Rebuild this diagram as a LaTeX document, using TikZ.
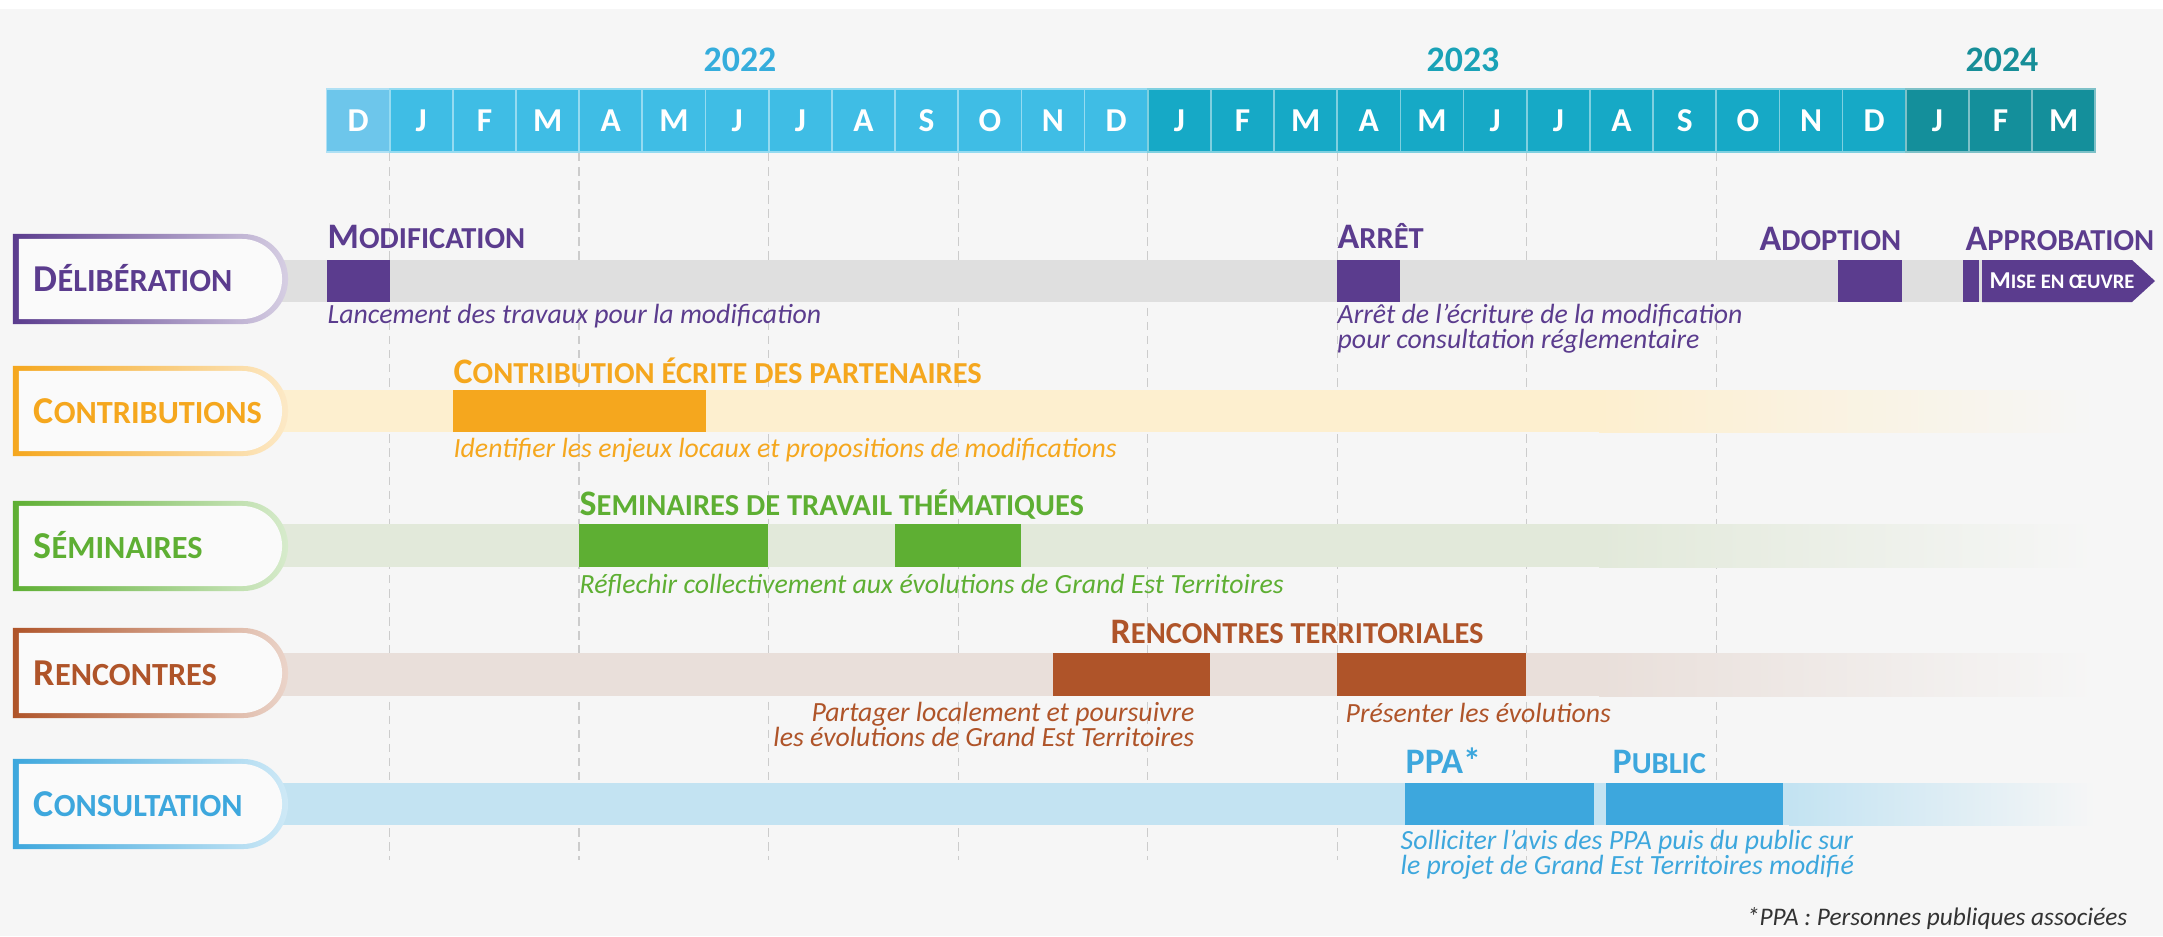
\documentclass[tikz,border=0pt]{standalone}
\usepackage{fontspec}
\setmainfont{Carlito}
\usepackage{xcolor}
\definecolor{pageBg}{HTML}{F6F6F6}
\definecolor{monthDec}{HTML}{6DC6EB}
\definecolor{month22}{HTML}{3FBDE5}
\definecolor{month23}{HTML}{16A9C6}
\definecolor{month24}{HTML}{148F9B}
\definecolor{year22}{HTML}{35ADDC}
\definecolor{year23}{HTML}{1AA2B7}
\definecolor{year24}{HTML}{178E98}
\definecolor{delibPurple}{HTML}{5B3C8E}
\definecolor{delibBar}{HTML}{DFDFDF}
\definecolor{contribOrange}{HTML}{F5A71E}
\definecolor{contribBar}{HTML}{FDEFCF}
\definecolor{semGreen}{HTML}{5EAF33}
\definecolor{semBar}{HTML}{E2E9DA}
\definecolor{rencBrown}{HTML}{AF5429}
\definecolor{rencBar}{HTML}{E9DFDA}
\definecolor{consBlue}{HTML}{3DA7DD}
\definecolor{consBar}{HTML}{C3E3F2}
\usepackage{tikz}
\usetikzlibrary{positioning}
\usetikzlibrary{shapes.misc}

\newcommand{\capsm}[2]{#1\scalebox{0.85}{#2}}

\begin{document}
\begin{tikzpicture}[
    x=0.01cm, y=-0.01cm,
    rowFrame/.style={shape=rounded rectangle,
    rounded rectangle west arc=none,
    minimum width=2.75cm, minimum height=0.9cm,
    inner sep=0, left color=#1, right color=#1!25!white},
    rowInner/.style={shape=rounded rectangle,
    rounded rectangle west arc=none,
    minimum width=2.63cm, minimum height=0.8cm,
    inner sep=0, fill=white!40!pageBg},
    rowLabel/.style={anchor=base west, inner sep=0,
    font=\fontsize{10.8}{12}\selectfont\bfseries},
    stepTitle/.style={anchor=base west, inner sep=0,
    font=\fontsize{10.2}{12}\selectfont\bfseries},
    stepText/.style={anchor=base west, inner sep=0, align=left,
    font=\fontsize{7.9}{7}\selectfont\itshape},
    monthLetter/.style={text=white, inner sep=0,
    font=\fontsize{9.5}{11}\selectfont\bfseries},
    yearLabel/.style={inner sep=0, font=\fontsize{10.2}{12}\selectfont\bfseries},
    gridLine/.style={draw=black!20, line width=0.4pt, dash pattern=on 2.4pt off 1.6pt}
    ]
    \useasboundingbox (0,0) rectangle (2163,936);
    \fill[pageBg] (0,0) rectangle (2163,936);
    \fill[white] (0,0) rectangle (2163,9);

    % months
    \foreach \m [count=\i from 0] in {D,J,F,M,A,M,J,J,A,S,O,N,D,J,F,M,A,M,J,J,A,S,O,N,D,J,F,M} {
      \pgfmathsetmacro\xa{326.5+63.17*\i}
      \ifnum\i=0 \def\mc{monthDec}\else\ifnum\i<13 \def\mc{month22}\else\ifnum\i<25 \def\mc{month23}\else\def\mc{month24}\fi\fi\fi
      \filldraw[fill=\mc, draw=white!45!\mc, line width=0.5pt] (\xa,89) rectangle (\xa+63.17,152);
      \node[monthLetter] (m\i) at (\xa+31.6,120.5) {\m};
    }
    \node[yearLabel, text=year22] (y2022) at (740,60) {2022};
    \node[yearLabel, text=year23] (y2023) at (1463,60) {2023};
    \node[yearLabel, text=year24] (y2024) at (2002,60) {2024};

    % quarter lines
    \foreach \k in {1,4,7,10,13,16,19,22}
      \draw[gridLine] (326.5+63.17*\k,153) -- (326.5+63.17*\k,860);

    % tracks
    \fill[delibBar] (270,260) rectangle (2000,302);
    \fill[contribBar] (270,390) rectangle (1600,432);
    \shade[left color=contribBar, right color=pageBg] (1599,390) rectangle (2095,432);
    \fill[semBar] (270,524) rectangle (1600,567);
    \shade[left color=semBar, right color=pageBg] (1599,524) rectangle (2095,567);
    \fill[rencBar] (270,653) rectangle (1600,696);
    \shade[left color=rencBar, right color=pageBg] (1599,653) rectangle (2095,696);
    \fill[consBar] (270,783) rectangle (1790,825);
    \shade[left color=consBar, right color=pageBg] (1789,783) rectangle (2095,825);

    % row frames
    \node[rowFrame=delibPurple] (delib) at (150.5,279) {};
    \node[rowInner] (delibIn) at (150.5,279) {};
    \node[rowLabel, text=delibPurple] (delibLabel) at (33,291) {\capsm{D}{ÉLIBÉRATION}};
    \node[rowFrame=contribOrange] (contrib) at (150.5,411) {};
    \node[rowInner] (contribIn) at (150.5,411) {};
    \node[rowLabel, text=contribOrange] (contribLabel) at (33,423) {\capsm{C}{ONTRIBUTIONS}};
    \node[rowFrame=semGreen] (sem) at (150.5,546) {};
    \node[rowInner] (semIn) at (150.5,546) {};
    \node[rowLabel, text=semGreen] (semLabel) at (33,558) {\capsm{S}{ÉMINAIRES}};
    \node[rowFrame=rencBrown] (renc) at (150.5,673) {};
    \node[rowInner] (rencIn) at (150.5,673) {};
    \node[rowLabel, text=rencBrown] (rencLabel) at (33,685) {\capsm{R}{ENCONTRES}};
    \node[rowFrame=consBlue] (cons) at (150.5,804) {};
    \node[rowInner] (consIn) at (150.5,804) {};
    \node[rowLabel, text=consBlue] (consLabel) at (33,816) {\capsm{C}{ONSULTATION}};

    % deliberation
    \fill[delibPurple] (326.5,260) rectangle (389.7,302);
    \fill[delibPurple] (1337,260) rectangle (1400,302);
    \fill[delibPurple] (1838,260) rectangle (1902,302);
    \fill[delibPurple] (1963,260) rectangle (1979,302);
    \fill[delibPurple] (1982,260) -- (2132,260) -- (2155,281) -- (2132,302) -- (1982,302) -- cycle;
    \node[text=white, inner sep=0, font=\fontsize{6.9}{8}\selectfont\bfseries] (miseOeuvre) at (2062,281) {\capsm{M}{ISE EN ŒUVRE}};
    \node[stepTitle, text=delibPurple] (modifTitle) at (327,248) {\capsm{M}{ODIFICATION}};
    \node[stepText, text=delibPurple] (modifText) at (327,323) {Lancement des travaux pour la modification};
    \node[stepTitle, text=delibPurple] (arretTitle) at (1337,248) {\capsm{A}{RRÊT}};
    \node[stepText, text=delibPurple] (arretText) at (1337,348) {Arrêt de l’écriture de la modification\\pour consultation réglementaire};
    \node[stepTitle, text=delibPurple, anchor=base east] (adoptTitle) at (1902,250) {\capsm{A}{DOPTION}};
    \node[stepTitle, text=delibPurple] (approTitle) at (1965,250) {\capsm{A}{PPROBATION}};

    % contributions
    \fill[contribOrange] (452.8,390) rectangle (705.5,432);
    \node[stepTitle, text=contribOrange] (contribTitle) at (453,383) {\capsm{C}{ONTRIBUTION ÉCRITE DES PARTENAIRES}};
    \node[stepText, text=contribOrange] (contribText) at (453,457) {Identifier les enjeux locaux et propositions de modifications};

    % seminaires
    \fill[semGreen] (578.6,524) rectangle (768,567);
    \fill[semGreen] (895,524) rectangle (1021,567);
    \node[stepTitle, text=semGreen] (semTitle) at (579,515) {\capsm{S}{EMINAIRES DE TRAVAIL THÉMATIQUES}};
    \node[stepText, text=semGreen] (semText) at (579,593) {Réflechir collectivement aux évolutions de Grand Est Territoires};

    % rencontres
    \fill[rencBrown] (1053,653) rectangle (1210,696);
    \fill[rencBrown] (1337,653) rectangle (1526,696);
    \node[stepTitle, text=rencBrown] (rencTitle) at (1110,643) {\capsm{R}{ENCONTRES TERRITORIALES}};
    \node[stepText, text=rencBrown, anchor=base east, align=right] (rencTextA) at (1195,746) {Partager localement et poursuivre\\les évolutions de Grand Est Territoires};
    \node[stepText, text=rencBrown] (rencTextB) at (1345,722) {Présenter les évolutions};

    % consultation
    \fill[consBlue] (1405,783) rectangle (1594,825);
    \fill[consBlue] (1606,783) rectangle (1783,825);
    \node[stepTitle, text=consBlue] (ppaTitle) at (1405,773) {PPA*};
    \node[stepTitle, text=consBlue] (publicTitle) at (1612,773) {\capsm{P}{UBLIC}};
    \node[stepText, text=consBlue] (consText) at (1400,874) {Solliciter l’avis des PPA puis du public sur\\le projet de Grand Est Territoires modifié};

    \node[stepText, text=black!80, font=\fontsize{7.2}{8}\selectfont\itshape, anchor=base east] (ppaNote) at (2128,925) {*PPA : Personnes publiques associées};
  \end{tikzpicture}
\end{document}
